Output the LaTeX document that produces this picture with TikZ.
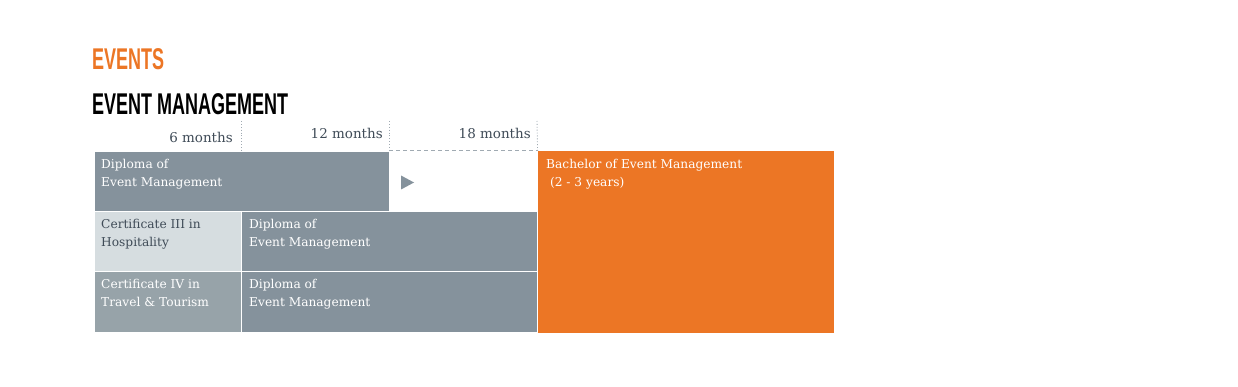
\documentclass[tikz,border=0pt]{standalone}
\usepackage{fontspec}
\setmainfont{DejaVu Serif}
\newfontfamily\titlefont[FakeStretch=0.6]{Liberation Sans Bold}
\definecolor{evorange}{HTML}{EC7625}
\definecolor{dkgray}{HTML}{85929C}
\definecolor{ltgray}{HTML}{D6DDE0}
\definecolor{mdgray}{HTML}{97A3A9}
\definecolor{lblgray}{HTML}{3F4B57}
\definecolor{dashgray}{HTML}{A0AAB2}
\begin{document}
\begin{tikzpicture}[x=1pt,y=-1pt,
  cell/.style={rectangle,draw=white,line width=0.6pt,anchor=north west,inner sep=0pt},
  celltxt/.style={anchor=north west,align=left,inner sep=0pt,text=white,font=\fontsize{12.2}{18}\selectfont},
  mlabel/.style={anchor=base east,inner sep=0pt,text=lblgray,font=\fontsize{13.5}{15}\selectfont},
  guide/.style={dashgray,line width=0.9pt,dotted},
  ]
\useasboundingbox (0,0) rectangle (1238,387);
\node[anchor=base west,inner sep=0pt,text=evorange,font=\titlefont\fontsize{30}{30}\selectfont] (t1) at (92,70) {EVENTS};
\node[anchor=base west,inner sep=0pt,text=black,font=\titlefont\fontsize{30}{30}\selectfont] (t2) at (92,115) {EVENT MANAGEMENT};
% boxes
\node[cell,fill=dkgray,minimum width=295,minimum height=60] (d1) at (94,151) {};
\node[cell,fill=white,draw=none,minimum width=148,minimum height=60] (w1) at (389,151) {};
\node[cell,fill=ltgray,minimum width=147,minimum height=60] (c3) at (94,211) {};
\node[cell,fill=dkgray,minimum width=296,minimum height=60] (d2) at (241,211) {};
\node[cell,fill=mdgray,minimum width=147,minimum height=61] (c4) at (94,271) {};
\node[cell,fill=dkgray,minimum width=296,minimum height=61] (d3) at (241,271) {};
\node[cell,fill=evorange,draw=none,minimum width=296,minimum height=182] (b) at (538,151) {};
% texts
\node[celltxt] at ([shift={(7,8)}]d1.north west) {Diploma of\\Event Management};
\node[celltxt,text=lblgray] at ([shift={(7,8)}]c3.north west) {Certificate III in\\Hospitality};
\node[celltxt] at ([shift={(8,8)}]d2.north west) {Diploma of\\Event Management};
\node[celltxt] at ([shift={(7,8)}]c4.north west) {Certificate IV in\\Travel \& Tourism};
\node[celltxt] at ([shift={(8,8)}]d3.north west) {Diploma of\\Event Management};
\node[celltxt] at ([shift={(8,8)}]b.north west) {Bachelor of Event Management\\\ (2 - 3 years)};
% arrow triangle
\fill[dkgray] (401,175.5) -- (414,182.5) -- (401,189.5) -- cycle;
% guides
\coordinate (g1) at (241,121);
\coordinate (g2) at (389,121);
\coordinate (g3) at (537,121);
\draw[guide] (g1) -- (d2.north west |- d1.north);
\draw[guide] (g2) -- (w1.north west);
\draw[guide] (g3) -- (w1.north east);
\draw[dashgray,line width=1pt,dash pattern=on 4pt off 3pt] (w1.north west) -- (w1.north east);
% month labels
\node[mlabel] (m6) at (233,143) {6 months};
\node[mlabel] (m12) at (383,139) {12 months};
\node[mlabel] (m18) at (531,139) {18 months};
\end{tikzpicture}
\end{document}
